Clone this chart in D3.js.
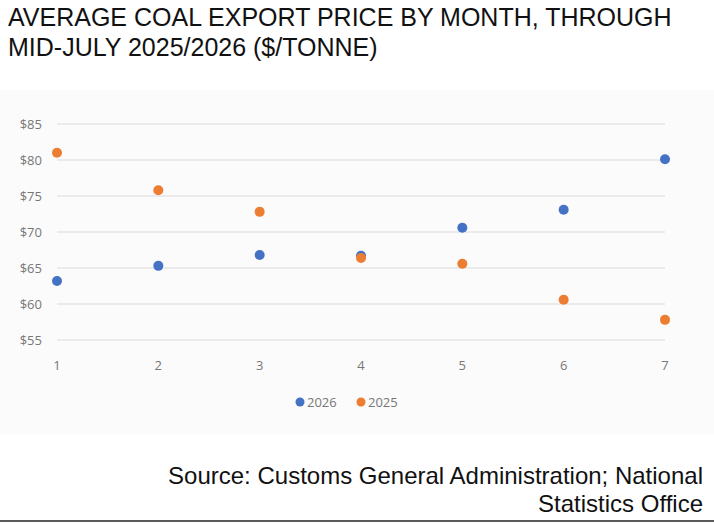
<!DOCTYPE html>
<html><head><meta charset="utf-8">
<script src="https://cdn.jsdelivr.net/npm/d3@7"></script>
<style>body{margin:0;background:#fff}svg{display:block}</style>
</head><body><svg id="chart" width="714" height="523"></svg>
<script>
const months = [1, 2, 3, 4, 5, 6, 7];
const price2026 = [63.2, 65.3, 66.8, 66.7, 70.6, 73.1, 80.1];
const price2025 = [81.0, 75.8, 72.8, 66.4, 65.6, 60.6, 57.8];
const yTicks = [55, 60, 65, 70, 75, 80, 85];
const series = [
  { name: "2026", values: price2026, color: "#4472c4" },
  { name: "2025", values: price2025, color: "#ed7d31" }
];

const svg = d3.select("#chart");
const font = "Liberation Sans, Arial, sans-serif";

// titles
svg.append("text").attr("x", 8).attr("y", 26).attr("font-family", font).attr("font-size", 25).attr("fill", "#111")
  .text("AVERAGE COAL EXPORT PRICE BY MONTH, THROUGH");
svg.append("text").attr("x", 8).attr("y", 56).attr("font-family", font).attr("font-size", 25).attr("fill", "#111")
  .text("MID-JULY 2025/2026 ($/TONNE)");

// chart panel
svg.append("rect").attr("x", 0).attr("y", 90).attr("width", 714).attr("height", 345).attr("fill", "#fbfbfb");

const x = d3.scaleLinear().domain([1, 7]).range([57, 665]);
const y = d3.scaleLinear().domain([55, 85]).range([340, 124]);

svg.append("g").selectAll("line").data(yTicks).join("line")
  .attr("x1", 57).attr("x2", 665)
  .attr("y1", d => y(d)).attr("y2", d => y(d))
  .attr("stroke", "#e6e6e6").attr("stroke-width", 1.5);

svg.append("g").selectAll("text").data(yTicks).join("text")
  .attr("x", 42).attr("y", d => y(d) + 5).attr("text-anchor", "end")
  .attr("font-family", "Open Sans, sans-serif").attr("font-size", 13).attr("fill", "#777")
  .text(d => "$" + d);

svg.append("g").selectAll("text").data(months).join("text")
  .attr("x", d => x(d)).attr("y", 370).attr("text-anchor", "middle")
  .attr("font-family", "Open Sans, sans-serif").attr("font-size", 13).attr("fill", "#777")
  .text(d => d);

for (const s of series) {
  svg.append("g").selectAll("circle").data(s.values).join("circle")
    .attr("cx", (d, i) => x(months[i])).attr("cy", d => y(d)).attr("r", 5)
    .attr("fill", s.color);
}

// legend
const leg = svg.append("g").attr("font-family", "Open Sans, sans-serif").attr("font-size", 13);
[[300, series[0]], [361, series[1]]].forEach(([lx, s]) => {
  leg.append("circle").attr("cx", lx).attr("cy", 402).attr("r", 4.5).attr("fill", s.color);
  leg.append("text").attr("x", lx + 7).attr("y", 407).attr("fill", "#777").text(s.name);
});

// source
svg.append("text").attr("x", 703).attr("y", 484).attr("text-anchor", "end").attr("font-family", font).attr("font-size", 24).attr("fill", "#111")
  .text("Source: Customs General Administration; National");
svg.append("text").attr("x", 703).attr("y", 512).attr("text-anchor", "end").attr("font-family", font).attr("font-size", 24).attr("fill", "#111")
  .text("Statistics Office");
svg.append("line").attr("x1", 0).attr("x2", 714).attr("y1", 521).attr("y2", 521).attr("stroke", "#222").attr("stroke-width", 1.5);
</script></body></html>
